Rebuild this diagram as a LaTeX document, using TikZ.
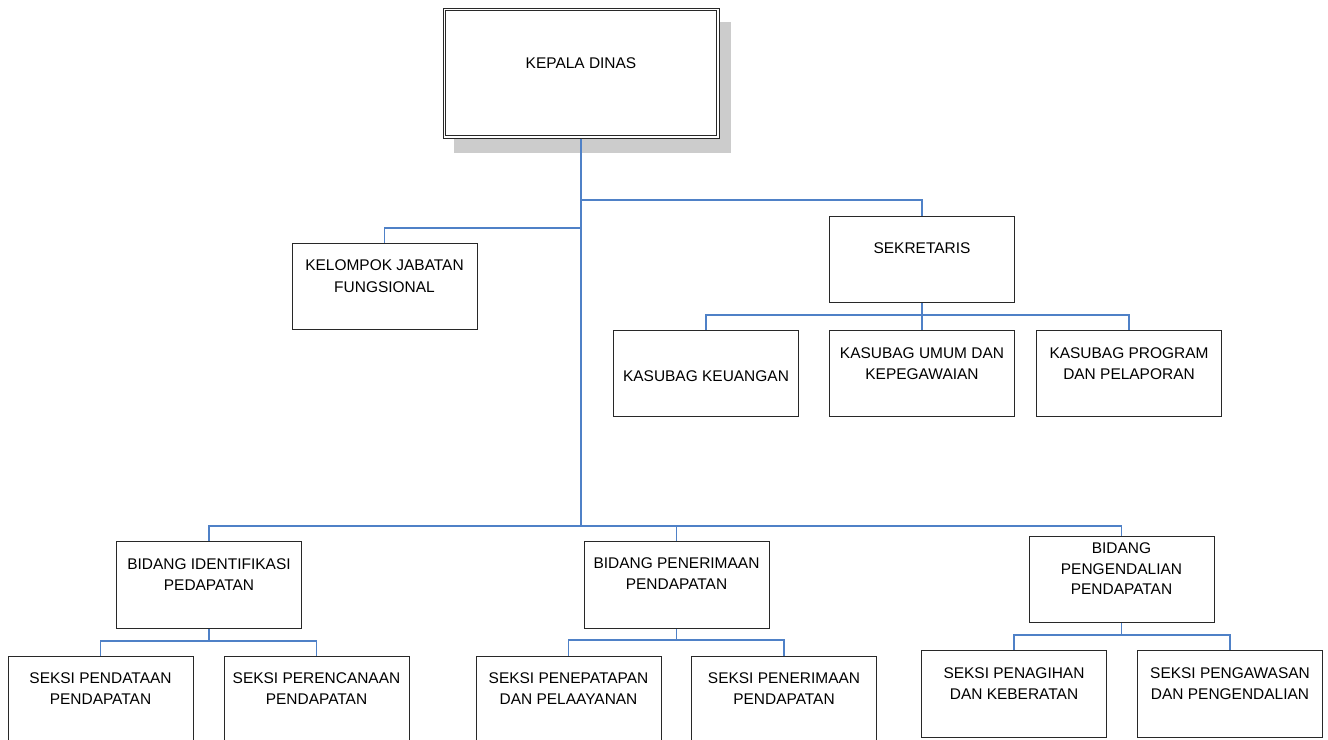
\documentclass[tikz,border=0pt]{standalone}
\usepackage{fontspec}
\setmainfont{Liberation Sans}
\definecolor{linkblue}{RGB}{79,129,199}
\definecolor{shadowgray}{RGB}{204,204,204}
\definecolor{boxline}{RGB}{40,40,40}
\tikzset{
  link/.style={draw=linkblue, line width=0.8pt},
  orgbox/.style={draw=boxline, fill=white, line width=0.75pt, inner sep=0pt,
    minimum width=138.75pt, minimum height=65pt},
  lbl/.style={align=center, inner sep=0pt, text=black,
    font=\fontsize{11.6pt}{16pt}\selectfont},
}
\begin{document}
\begin{tikzpicture}[x=0.75pt,y=-0.75pt]
\path[use as bounding box] (0,0) rectangle (1328,739);

% top box with shadow
\node[fill=shadowgray, inner sep=0pt, minimum width=207.75pt, minimum height=98.25pt] (kdsh) at (592,87) {};
\node[draw=boxline, line width=0.75pt, fill=white, inner sep=0pt,
      minimum width=207pt, minimum height=97.5pt] (kd) at (581,73) {};
\draw[boxline, line width=0.75pt] ([shift={(2.25pt,-2.25pt)}]kd.north west) rectangle ([shift={(-2.25pt,2.25pt)}]kd.south east);
\node[lbl] (kdt) at ([yshift=7.5pt]kd.center) {KEPALA DINAS};

% second level
\node[orgbox] (kj) at (384.5,286.5) {};
\node[lbl] (kjt) at ([yshift=7.8pt]kj.center) {KELOMPOK JABATAN\\FUNGSIONAL};
\node[orgbox] (sk) at (922,259.5) {};
\node[lbl] (skt) at ([yshift=8.5pt]sk.center) {SEKRETARIS};

% kasubag
\node[orgbox] (k1) at (706,373.5) {};
\node[lbl] (k1t) at ([yshift=-1.9pt]k1.center) {KASUBAG KEUANGAN};
\node[orgbox] (k2) at (922,373.5) {};
\node[lbl] (k2t) at ([yshift=7.5pt]k2.center) {KASUBAG UMUM DAN\\KEPEGAWAIAN};
\node[orgbox] (k3) at (1129,373.5) {};
\node[lbl] (k3t) at ([yshift=7.5pt]k3.center) {KASUBAG PROGRAM\\DAN PELAPORAN};

% bidang
\node[orgbox] (bi) at (209,585) {};
\node[lbl] (bit) at ([yshift=8pt]bi.center) {BIDANG IDENTIFIKASI\\PEDAPATAN};
\node[orgbox] (bp) at (676.5,585) {};
\node[lbl] (bpt) at ([yshift=8.5pt]bp.center) {BIDANG PENERIMAAN\\PENDAPATAN};
\node[orgbox] (bg) at (1121.5,579.5) {};
\node[lbl, font=\fontsize{11.6pt}{15.4pt}\selectfont] (bgt) at ([yshift=8pt]bg.center) {BIDANG\\PENGENDALIAN\\PENDAPATAN};

% seksi
\node[orgbox] (s1) at (100.5,699.5) {};
\node[lbl] (s1t) at ([yshift=8pt]s1.center) {SEKSI PENDATAAN\\PENDAPATAN};
\node[orgbox] (s2) at (316.5,699.5) {};
\node[lbl] (s2t) at ([yshift=8pt]s2.center) {SEKSI PERENCANAAN\\PENDAPATAN};
\node[orgbox] (s3) at (568.5,699.5) {};
\node[lbl] (s3t) at ([yshift=8pt]s3.center) {SEKSI PENEPATAPAN\\DAN PELAAYANAN};
\node[orgbox] (s4) at (784,699.5) {};
\node[lbl] (s4t) at ([yshift=8pt]s4.center) {SEKSI PENERIMAAN\\PENDAPATAN};
\node[orgbox] (s5) at (1014,694) {};
\node[lbl] (s5t) at ([yshift=8pt]s5.center) {SEKSI PENAGIHAN\\DAN KEBERATAN};
\node[orgbox] (s6) at (1230,694) {};
\node[lbl] (s6t) at ([yshift=8pt]s6.center) {SEKSI PENGAWASAN\\DAN PENGENDALIAN};

% junction coordinates
\coordinate (jS) at (581,200);
\coordinate (jK) at (581,228);
\coordinate (busB) at (581,526);
\coordinate (busS) at (922,315);
\coordinate (bus1) at (209,641);
\coordinate (bus2) at (676.5,640);
\coordinate (bus3) at (1121.5,635);

% connectors
\draw[link] (kd.south) -- (busB);
\draw[link] (jS) -| (sk.north);
\draw[link] (jK) -| (kj.north);
\draw[link] (bi.north) |- (busB) -| (bg.north);
\draw[link] (bp.north) -- (bp.north |- busB);

\draw[link] (sk.south) -- (k2.north);
\draw[link] (k1.north) |- (busS) -| (k3.north);

\draw[link] (bi.south) -- (bus1);
\draw[link] (s1.north) |- (bus1) -| (s2.north);
\draw[link] (bp.south) -- (bus2);
\draw[link] (s3.north) |- (bus2) -| (s4.north);
\draw[link] (bg.south) -- (bus3);
\draw[link] (s5.north) |- (bus3) -| (s6.north);
\end{tikzpicture}
\end{document}
